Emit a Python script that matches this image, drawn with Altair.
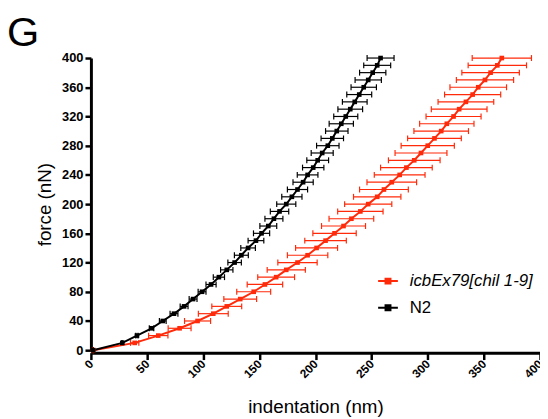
import altair as alt
import pandas as pd

# force levels (nN)
force = [0, 10, 20, 30, 40, 50, 60, 70, 80, 90, 100, 110, 120, 130, 140, 150, 160,
         170, 180, 190, 200, 210, 220, 230, 240, 250, 260, 270, 280, 290, 300, 310,
         320, 330, 340, 350, 360, 370, 380, 390, 400]

# N2 indentation (nm) and x error (nm)
n2_x = [2, 28, 41, 54, 64, 74, 83, 91, 99, 107, 114, 121, 128, 134, 140, 147, 152,
        158, 163, 168, 174, 179, 184, 189, 193, 198, 202, 206, 211, 215, 219, 223,
        227, 231, 235, 239, 243, 247, 251, 255, 258]
n2_err = [0, 0.5, 1, 2, 3, 3.5, 3.5, 3.5, 3.5, 4.5, 5, 5.5, 6, 6.2, 6.5, 7, 7.2,
          7.5, 8, 8.2, 8.5, 9, 9, 9, 9.2, 9.5, 9.7, 9.8, 10, 10, 10, 10.8, 10.7,
          11, 11, 11.1, 11.3, 11.7, 11.7, 12, 12]

# icbEx79[chil 1-9] indentation (nm) and x error (nm)
icb_x = [2, 39, 60, 79, 95, 109, 121, 133, 145, 155, 165, 174, 184, 193, 201, 209,
         217, 225, 232, 240, 247, 255, 261, 268, 275, 281, 288, 294, 300, 306, 312,
         317, 323, 328, 334, 340, 345, 351, 356, 362, 366]
icb_err = [0, 3.7, 8.6, 10.2, 11.6, 13.3, 13.3, 14.6, 15.1, 15.8, 16.4, 17, 17.5,
           18, 18.7, 18.5, 19.3, 19.6, 19.9, 20.2, 21, 21.1, 21.7, 22.1, 22.6, 23,
           23, 23.1, 23.7, 23.9, 24.3, 24.2, 24.5, 24.8, 24.8, 25, 25.2, 25.5,
           25.6, 26, 26.4]

series = ["icbEx79[chil 1-9]", "N2"]
colors = ["#ff2a0a", "#000000"]
panel_label = ["G"]

x_ticks = [0, 50, 100, 150, 200, 250, 300, 350, 400]
y_ticks = [0, 40, 80, 120, 160, 200, 240, 280, 320, 360, 400]

rows = []
for name, xs, es in [(series[0], icb_x, icb_err), (series[1], n2_x, n2_err)]:
    for f, x, e in zip(force, xs, es):
        rows.append({"series": name, "force": f, "ind": x, "lo": x - e, "hi": x + e})
df = pd.DataFrame(rows)

FONT = "Liberation Sans"

xscale = alt.Scale(domain=[0, 400], nice=False, zero=False)
yscale = alt.Scale(domain=[0, 400], nice=False, zero=False)
cscale = alt.Scale(domain=series, range=colors)

x_axis = alt.Axis(values=x_ticks, title="indentation (nm)", labelAngle=315,
                  labelAlign="right", labelBaseline="middle", labelPadding=2,
                  offset=2.5, titlePadding=18, labelOverlap=False)
y_axis = alt.Axis(values=y_ticks, title="force (nN)", labelPadding=2, titlePadding=7,
                  labelOverlap=False)

Y = alt.Y("force:Q", scale=yscale, axis=y_axis)


def X(field):
    return alt.X(field, type="quantitative", scale=xscale, axis=x_axis)


color_plain = alt.Color("series:N", scale=cscale, sort=series)

base = alt.Chart(df)

err_bar = base.mark_rule(strokeWidth=1.2).encode(
    x=X("lo"), x2="hi:Q", y=Y, color=color_plain,
)
cap_lo = base.mark_tick(orient="vertical", size=6, thickness=1.2, opacity=1).encode(
    x=X("lo"), y=Y, color=color_plain,
)
cap_hi = base.mark_tick(orient="vertical", size=6, thickness=1.2, opacity=1).encode(
    x=X("hi"), y=Y, color=color_plain,
)

line = base.mark_line(strokeWidth=2).encode(
    x=X("ind"),
    y=Y,
    color=alt.Color(
        "series:N", scale=cscale, sort=series,
        legend=alt.Legend(
            orient="none", legendX=290, legendY=215, title=None, padding=0,
            labelFont=FONT, labelFontSize=17, labelColor="black",
            labelFontStyle=alt.ExprRef("datum.label == 'N2' ? 'normal' : 'italic'"),
            symbolType="M-1,0H1M-0.25,-0.25H0.25V0.25H-0.25Z",
            symbolSize=400, symbolStrokeWidth=2, rowPadding=8, labelOffset=11,
        ),
    ),
    detail="series:N",
)
pts = base.mark_square(size=22, opacity=1, filled=True).encode(
    x=X("ind"), y=Y, color=color_plain,
)

label = alt.Chart(pd.DataFrame({"t": panel_label})).mark_text(
    font=FONT, fontSize=42, fontWeight="normal", color="black",
    align="left", baseline="alphabetic",
).encode(text="t:N", x=alt.value(-85), y=alt.value(-12))

chart = alt.layer(err_bar, cap_lo, cap_hi, line, pts, label).properties(
    width=455, height=296,
    padding={"left": 84, "top": 48, "right": 0, "bottom": 66},
    autosize=alt.AutoSizeParams(type="none"),
).configure_view(stroke=None).configure_axis(
    grid=False, domainColor="black", domainWidth=3, tickColor="black",
    tickWidth=2.5, tickSize=6, labelFont=FONT, labelFontWeight="bold",
    labelFontSize=13, labelColor="black", titleFont=FONT, titleFontSize=19,
    titleFontWeight="normal", titleColor="black",
).configure_axisX(labelFontSize=12, tickSize=7)

chart.save("out.html", embed_options={"renderer": "svg", "actions": False})
